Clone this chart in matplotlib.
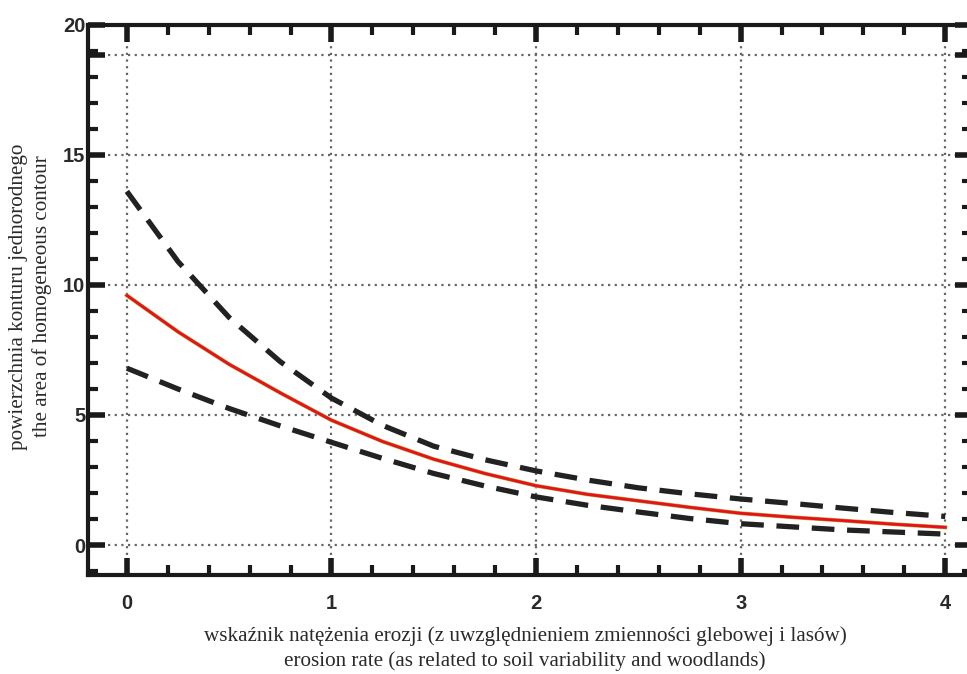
import numpy as np
import matplotlib.pyplot as plt
from matplotlib.ticker import MultipleLocator

x = [0, 0.25, 0.5, 0.75, 1, 1.25, 1.5, 1.75, 2, 2.25, 2.5, 2.75, 3, 3.25, 3.5, 3.75, 4]
fit = [9.6, 8.2, 6.95, 5.85, 4.8, 3.98, 3.3, 2.75, 2.28, 1.95, 1.7, 1.45, 1.22, 1.07, 0.94, 0.8, 0.68]
upper = [13.6, 10.9, 8.75, 7.05, 5.65, 4.6, 3.8, 3.28, 2.85, 2.5, 2.2, 1.97, 1.77, 1.6, 1.42, 1.25, 1.1]
lower = [6.8, 6.0, 5.25, 4.58, 3.95, 3.33, 2.75, 2.27, 1.85, 1.53, 1.27, 1.02, 0.82, 0.7, 0.58, 0.5, 0.42]

xticks = [0, 1, 2, 3, 4]
yticks = [0, 5, 10, 15, 18.85, 20]
ylabels = ['0', '5', '10', '15', '', '20']

fig = plt.figure(figsize=(9.67, 6.74), dpi=100)
ax = fig.add_axes([0.091, 0.147, 0.914, 0.816])
ax.set_xlim(-0.19, 4.13)
ax.set_ylim(-1.15, 20)

# siatka kropkowana
for xv in xticks:
    ax.axvline(xv, color='#666666', ls=(0, (1, 2.0)), lw=1.6, zorder=1)
for yv in yticks[:-1]:
    ax.axhline(yv, color='#666666', ls=(0, (1, 2.0)), lw=1.6, zorder=1)

# krzywe
ax.plot(x, upper, color='#222222', lw=3.8, ls=(0, (4.3, 2.4)), zorder=3)
ax.plot(x, lower, color='#222222', lw=3.8, ls=(0, (4.3, 2.4)), zorder=3)
ax.plot(x, fit, color='#b8a030', lw=2.8, zorder=4)
ax.plot(x, fit, color='#e8101c', lw=2.0, zorder=5)

# osie
for s in ax.spines.values():
    s.set_linewidth(3)
    s.set_color('#1a1a1a')

ax.set_xticks(xticks)
ax.set_yticks(yticks)
ax.set_yticklabels(ylabels)
ax.xaxis.set_minor_locator(MultipleLocator(0.2))
ax.yaxis.set_minor_locator(MultipleLocator(1))
ax.tick_params(which='both', direction='in', top=True, right=True, color='#1a1a1a')
ax.tick_params(which='major', length=12, width=4)
ax.tick_params(which='minor', length=7, width=3)
ax.tick_params(axis='x', which='major', pad=14)
ax.tick_params(axis='y', which='major', pad=2)
for lab in ax.get_xticklabels() + ax.get_yticklabels():
    lab.set_fontfamily('Liberation Sans')
    lab.set_fontsize(14.5)
    lab.set_fontweight('bold')
    lab.set_color('#2a2a2a')

fs = 15.2
fig.text(0.543, 0.056, 'wskaźnik natężenia erozji (z uwzględnieniem zmienności glebowej i lasów)',
         ha='center', va='center', family='Liberation Serif', fontsize=fs, color='#2a2a2a')
fig.text(0.543, 0.019, 'erosion rate (as related to soil variability and woodlands)',
         ha='center', va='center', family='Liberation Serif', fontsize=fs, color='#2a2a2a')
fig.text(0.019, 0.56, 'powierzchnia konturu jednorodnego', rotation=90,
         ha='center', va='center', family='Liberation Serif', fontsize=fs, color='#2a2a2a')
fig.text(0.043, 0.56, 'the area of homogeneous contour', rotation=90,
         ha='center', va='center', family='Liberation Serif', fontsize=fs, color='#2a2a2a')

fig.savefig('out.png', dpi=100)
